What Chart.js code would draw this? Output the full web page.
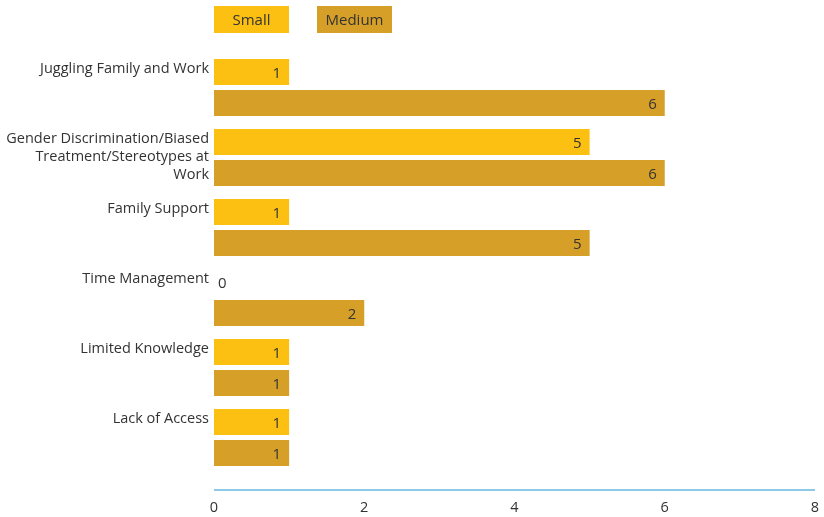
<!DOCTYPE html>
<html>
<head>
<meta charset="utf-8">
<script src="https://cdn.jsdelivr.net/npm/chart.js@4/dist/chart.umd.min.js"></script>
<style>
  html, body { margin: 0; padding: 0; background: #fff; }
  canvas { display: block; }
</style>
</head>
<body>
<canvas id="chart" width="824" height="517"></canvas>
<script>
// category labels, already broken into the lines shown in the picture
const categories = [
  ['Juggling Family and Work'],
  ['Gender Discrimination/Biased', 'Treatment/Stereotypes at', 'Work'],
  ['Family Support'],
  ['Time Management'],
  ['Limited Knowledge'],
  ['Lack of Access'],
];
const seriesNames = ['Small', 'Medium'];
const smallValues = [1, 5, 1, 0, 1, 1];
const mediumValues = [6, 6, 5, 2, 1, 1];
const xTicks = [0, 2, 4, 6, 8];

const FONT = '"Open Sans", "DejaVu Sans", sans-serif';
const TEXT = '#333333';
const colors = ['#FCC012', '#D6A028'];

// draws the numbers at the end of each bar
const valueLabels = {
  id: 'valueLabels',
  afterDatasetsDraw(chart) {
    const ctx = chart.ctx;
    ctx.save();
    ctx.font = '15px ' + FONT;
    ctx.fillStyle = TEXT;
    ctx.textBaseline = 'middle';
    chart.data.datasets.forEach((ds, i) => {
      chart.getDatasetMeta(i).data.forEach((bar, j) => {
        const v = ds.data[j];
        if (v === 0) {
          ctx.textAlign = 'left';
          ctx.fillText(String(v), bar.base + 4, bar.y + 1.5);
        } else {
          ctx.textAlign = 'right';
          ctx.fillText(String(v), bar.x - 8, bar.y + 1.5);
        }
      });
    });
    ctx.restore();
  }
};

// legend: filled boxes with the series name inside
const boxLegend = {
  id: 'boxLegend',
  afterDraw(chart) {
    const ctx = chart.ctx;
    let x = chart.chartArea.left;
    ctx.save();
    ctx.font = '15px ' + FONT;
    ctx.textAlign = 'center';
    ctx.textBaseline = 'middle';
    chart.data.datasets.forEach(ds => {
      ctx.fillStyle = ds.backgroundColor;
      ctx.fillRect(x, 6, 75, 27);
      ctx.fillStyle = TEXT;
      ctx.fillText(ds.label, x + 37.5, 21);
      x += 103;
    });
    ctx.restore();
  }
};

// light blue base line sitting a little below the bars
const baseLine = {
  id: 'baseLine',
  afterDraw(chart) {
    const { ctx, chartArea } = chart;
    const y = chartArea.bottom + 17.5;
    ctx.save();
    ctx.strokeStyle = '#8DCAE8';
    ctx.lineWidth = 2;
    ctx.beginPath();
    ctx.moveTo(chartArea.left, y);
    ctx.lineTo(chartArea.right, y);
    ctx.stroke();
    ctx.restore();
  }
};

new Chart(document.getElementById('chart'), {
  type: 'bar',
  data: {
    labels: categories,
    datasets: [
      { label: seriesNames[0], data: smallValues, backgroundColor: colors[0] },
      { label: seriesNames[1], data: mediumValues, backgroundColor: colors[1] },
    ],
  },
  options: {
    indexAxis: 'y',
    responsive: false,
    animation: false,
    categoryPercentage: 0.8857,
    barPercentage: 0.8387,
    layout: { padding: { top: 52.5, right: 9, left: 0, bottom: 0 } },
    plugins: {
      legend: { display: false },
      tooltip: { enabled: false },
    },
    scales: {
      x: {
        min: 0,
        max: 8,
        afterBuildTicks(scale) {
          scale.ticks = xTicks.map(v => ({ value: v }));
        },
        afterFit(scale) { scale.height = 44.5; },
        grid: { display: false, tickLength: 23 },
        border: { display: false },
        ticks: { color: TEXT, padding: 4, font: { family: FONT, size: 14.5 } },
      },
      y: {
        afterFit(scale) { scale.width = 214; },
        grid: { display: false, drawTicks: false },
        border: { display: false },
        ticks: {
          color: TEXT,
          padding: 5,
          labelOffset: -1,
          font: { family: FONT, size: 14.5, lineHeight: 1.25 },
          // pad every label to three lines so the first line sits at the top of its group
          callback(value, index) {
            const lines = categories[index].slice();
            while (lines.length < 3) lines.push('');
            return lines;
          },
        },
      },
    },
  },
  plugins: [valueLabels, boxLegend, baseLine],
});
</script>
</body>
</html>
